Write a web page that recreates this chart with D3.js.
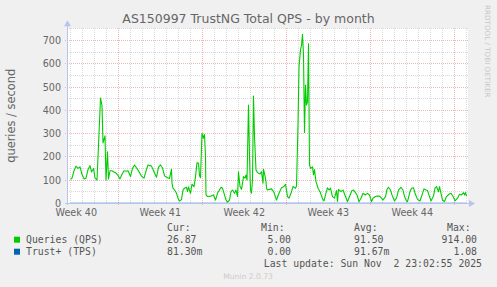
<!DOCTYPE html>
<html>
<head>
<meta charset="utf-8">
<script src="https://cdn.jsdelivr.net/npm/d3@7"></script>
<style>
    body { margin: 0; background: #f0f0f0; }
    svg { display: block; }
    text { white-space: pre; }
</style>
</head>
<body>
<div id="chart"></div>
<script>
// hours since the left edge of the graph, and the QPS read at that time
const hours = [7, 10, 14, 18, 22, 26, 30, 34, 38, 42, 46, 49, 53, 56, 60, 62, 65, 67, 70, 72, 76, 78, 81, 83, 86, 90, 94, 98, 102, 106, 110, 114, 118, 122, 127, 131, 135, 142, 149, 154, 159, 162, 169, 174, 179, 183, 187, 191, 195, 201, 205, 209, 210, 212, 215, 219, 222, 225, 229, 232, 235, 239, 241, 243, 247, 250, 254, 257, 260, 263, 265, 267, 270, 273, 275, 277, 278, 281, 288, 293, 297, 301, 308, 311, 315, 318, 321, 325, 328, 331, 335, 338, 341, 343, 346, 349, 353, 356, 358, 360, 363, 365, 367, 369, 371, 373, 375, 378, 381, 386, 389, 392, 393, 396, 398, 399, 401, 405, 409, 414, 419, 424, 429, 434, 437, 441, 444, 448, 452, 457, 459, 462, 464, 467, 469, 471, 473, 475, 477, 479, 481, 483, 485, 487, 491, 493, 495, 498, 502, 506, 511, 514, 517, 521, 524, 527, 531, 535, 539, 541, 543, 548, 552, 557, 561, 565, 570, 573, 577, 580, 584, 588, 592, 597, 601, 605, 609, 612, 617, 620, 625, 629, 632, 637, 640, 643, 647, 650, 655, 659, 663, 668, 672, 675, 679, 681, 686, 689, 693, 696, 701, 706, 711, 714, 718, 721, 725, 728, 733, 736, 739, 743, 745, 748, 751, 755, 759, 764, 768, 773, 776, 781, 785, 789, 793, 795, 797, 799]
const qps = [103, 108, 140, 160, 150, 157, 125, 105, 108, 145, 162, 135, 150, 110, 100, 200, 350, 453, 420, 260, 290, 100, 222, 105, 140, 140, 135, 130, 120, 105, 125, 140, 138, 140, 115, 150, 165, 143, 117, 108, 146, 165, 160, 136, 112, 155, 165, 152, 118, 110, 107, 146, 86, 65, 58, 43, 22, 10, 16, 57, 65, 69, 50, 71, 43, 83, 71, 115, 175, 172, 120, 110, 301, 280, 296, 200, 36, 29, 31, 36, 14, 43, 69, 65, 36, 14, 5, 14, 50, 57, 43, 57, 29, 136, 72, 60, 115, 108, 122, 100, 423, 200, 57, 43, 100, 462, 287, 143, 132, 126, 136, 86, 146, 118, 93, 65, 57, 60, 62, 47, 14, 43, 67, 72, 82, 29, 22, 43, 72, 65, 74, 337, 588, 660, 680, 727, 638, 305, 509, 423, 437, 686, 165, 150, 157, 122, 145, 93, 65, 50, 19, 10, 36, 67, 57, 65, 29, 22, 55, 8, 60, 50, 57, 29, 7, 29, 55, 57, 46, 36, 7, 22, 43, 36, 43, 36, 7, 22, 29, 31, 31, 22, 14, 29, 60, 69, 57, 36, 10, 22, 57, 69, 57, 29, 10, 7, 50, 65, 67, 43, 17, 10, 43, 62, 57, 55, 29, 10, 31, 65, 72, 50, 72, 43, 14, 7, 29, 39, 43, 26, 10, 22, 39, 36, 46, 36, 46, 31]

// Trust+ stays under ~1 tps, it hugs the zero line
const tpsHours = [7, 200, 400, 600, 799]
const tps = [0.09, 0.1, 0.08, 0.09, 0.08]

const yLabels = [0, 100, 200, 300, 400, 500, 600, 700]

const legendRows = [
    { name: "Queries (QPS)", color: "#00cc00", cur: "26.87", min: "5.00", avg: "91.50", max: "914.00" },
    { name: "Trust+ (TPS)", color: "#0066b3", cur: "81.30m", min: "0.00", avg: "91.67m", max: "1.08" }
]

const title = "AS150997 TrustNG Total QPS - by month"
const lastUpdate = "Last update: Sun Nov  2 23:02:55 2025"

const W = 497, H = 287
const plot = { left: 67, right: 468, top: 28.3, bottom: 203.3 }

const startTime = new Date(Date.UTC(2025, 9, 1, 17, 24))
const HOUR = 3600 * 1000
const endTime = new Date(startTime.getTime() + 802 * HOUR)
const toTime = function (h) { return new Date(startTime.getTime() + h * HOUR) }

const x = d3.scaleUtc().domain([startTime, endTime]).range([plot.left, plot.right])
const y = d3.scaleLinear().domain([0, 753]).range([plot.bottom, plot.top])

const svg = d3.select("#chart").append("svg")
    .attr("width", W)
    .attr("height", H)

svg.append("rect").attr("width", W).attr("height", H).attr("fill", "#f0f0f0")
svg.append("rect")
    .attr("x", plot.left).attr("y", plot.top)
    .attr("width", plot.right - plot.left).attr("height", plot.bottom - plot.top)
    .attr("fill", "#ffffff")

const crisp = function (v) { return Math.floor(v) + 0.5 }
const minorColor = "#dadada"
const majorColor = "#f2b6b6"

// minor grid
const grid = svg.append("g").attr("shape-rendering", "crispEdges").attr("stroke-width", 1)
grid.selectAll(".hmin")
    .data(d3.range(50, 751, 100))
    .enter().append("line")
    .attr("x1", plot.left).attr("x2", plot.right)
    .attr("y1", function (d) { return crisp(y(d)) }).attr("y2", function (d) { return crisp(y(d)) })
    .attr("stroke", minorColor).attr("stroke-dasharray", "1,1")

grid.selectAll(".vmin")
    .data(d3.utcDay.range(startTime, endTime))
    .enter().append("line")
    .attr("x1", function (d) { return crisp(x(d)) }).attr("x2", function (d) { return crisp(x(d)) })
    .attr("y1", plot.top).attr("y2", plot.bottom)
    .attr("stroke", minorColor).attr("stroke-dasharray", "1,1")

// major grid
grid.selectAll(".hmaj")
    .data(yLabels.slice(1))
    .enter().append("line")
    .attr("x1", plot.left - 2).attr("x2", plot.right)
    .attr("y1", function (d) { return crisp(y(d)) }).attr("y2", function (d) { return crisp(y(d)) })
    .attr("stroke", majorColor).attr("stroke-dasharray", "1,1")

const mondays = d3.utcMonday.range(startTime, endTime)
grid.selectAll(".vmaj")
    .data(mondays)
    .enter().append("line")
    .attr("x1", function (d) { return crisp(x(d)) }).attr("x2", function (d) { return crisp(x(d)) })
    .attr("y1", plot.top).attr("y2", plot.bottom + 3)
    .attr("stroke", majorColor).attr("stroke-dasharray", "1,1")

// data
const line = d3.line()
    .x(function (d) { return x(toTime(d[0])) })
    .y(function (d) { return y(d[1]) })

svg.append("path")
    .datum(d3.zip(tpsHours, tps))
    .attr("d", line)
    .attr("fill", "none")
    .attr("stroke", "#0066b3")
    .attr("stroke-width", 1)

svg.append("path")
    .datum(d3.zip(hours, qps))
    .attr("d", line)
    .attr("fill", "none")
    .attr("stroke", "#00cc00")
    .attr("stroke-width", 1.1)
    .attr("stroke-linejoin", "round")

// axes + arrows
const axisColor = "#b9c2f0"
const axes = svg.append("g").attr("shape-rendering", "crispEdges")
axes.append("line")
    .attr("x1", plot.left - 2).attr("x2", plot.right + 2)
    .attr("y1", crisp(plot.bottom)).attr("y2", crisp(plot.bottom))
    .attr("stroke", axisColor)
axes.append("line")
    .attr("x1", crisp(plot.left)).attr("x2", crisp(plot.left))
    .attr("y1", plot.bottom + 2).attr("y2", plot.top - 4)
    .attr("stroke", axisColor)
svg.append("path")
    .attr("d", "M" + (plot.right + 1) + "," + (crisp(plot.bottom) - 3.5) + "L" + (plot.right + 7) + "," + crisp(plot.bottom) + "L" + (plot.right + 1) + "," + (crisp(plot.bottom) + 3.5) + "Z")
    .attr("fill", axisColor)
svg.append("path")
    .attr("d", "M" + (crisp(plot.left) - 3.5) + "," + (plot.top - 2) + "L" + crisp(plot.left) + "," + (plot.top - 8) + "L" + (crisp(plot.left) + 3.5) + "," + (plot.top - 2) + "Z")
    .attr("fill", axisColor)

// labels
const font = "DejaVu Sans, sans-serif"
const mono = "DejaVu Sans Mono, monospace"

svg.append("text")
    .attr("x", W / 2).attr("y", 23)
    .attr("text-anchor", "middle")
    .attr("font-family", font).attr("font-size", 12.5)
    .attr("fill", "#666666")
    .text(title)

svg.append("text")
    .attr("transform", "translate(14.5," + (plot.top + plot.bottom) / 2 + ") rotate(-90)")
    .attr("text-anchor", "middle")
    .attr("font-family", font).attr("font-size", 11.4)
    .attr("fill", "#666666")
    .text("queries / second")

svg.selectAll(".ylab")
    .data(yLabels)
    .enter().append("text")
    .attr("x", plot.left - 6)
    .attr("y", function (d) { return y(d) })
    .attr("dy", "0.36em")
    .attr("text-anchor", "end")
    .attr("font-family", font).attr("font-size", 9.6)
    .attr("fill", "#666666")
    .text(function (d) { return d })

const weekFmt = d3.utcFormat("Week %V")
const weekLabels = d3.utcMonday.range(d3.utcDay.offset(startTime, -7), endTime)
    .map(function (d) { return new Date(d.getTime() + 3.5 * 24 * HOUR) })
    .filter(function (d) { return d > startTime && d < endTime })

svg.selectAll(".xlab")
    .data(weekLabels)
    .enter().append("text")
    .attr("x", function (d) { return x(d) })
    .attr("y", 216.3)
    .attr("text-anchor", "middle")
    .attr("font-family", font).attr("font-size", 9.6)
    .attr("fill", "#666666")
    .text(weekFmt)

svg.append("text")
    .attr("transform", "translate(484.5,5) rotate(90)")
    .attr("font-family", font).attr("font-size", 7.2)
    .attr("fill", "#c8c8c8")
    .text("RRDTOOL / TOBI OETIKER")

// legend
const legend = svg.append("g")
    .attr("font-family", mono).attr("font-size", 9.8)
    .attr("fill", "#555555")

const headers = [["Cur:", 167], ["Min:", 261], ["Avg:", 354], ["Max:", 447]]
legend.selectAll(".hdr")
    .data(headers)
    .enter().append("text")
    .attr("x", function (d) { return d[1] })
    .attr("y", 230.8)
    .text(function (d) { return d[0] })

const rows = legend.selectAll(".row")
    .data(legendRows)
    .enter().append("g")
    .attr("transform", function (d, i) { return "translate(0," + (243.2 + i * 12) + ")" })

rows.append("rect")
    .attr("x", 14).attr("y", -6.5)
    .attr("width", 6).attr("height", 6)
    .attr("fill", function (d) { return d.color })
rows.append("text").attr("x", 26).text(function (d) { return d.name })
rows.append("text").attr("x", 167).text(function (d) { return d.cur })
rows.append("text").attr("x", 291).attr("text-anchor", "end").text(function (d) { return d.min })
rows.append("text").attr("x", 354).text(function (d) { return d.avg })
rows.append("text").attr("x", 477).attr("text-anchor", "end").text(function (d) { return d.max })

legend.append("text")
    .attr("x", 482).attr("y", 266.8)
    .attr("text-anchor", "end")
    .text(lastUpdate)

svg.append("text")
    .attr("x", 248).attr("y", 279)
    .attr("text-anchor", "middle")
    .attr("font-family", font).attr("font-size", 7.6)
    .attr("fill", "#cccccc")
    .text("Munin 2.0.73")
</script>
</body>
</html>
